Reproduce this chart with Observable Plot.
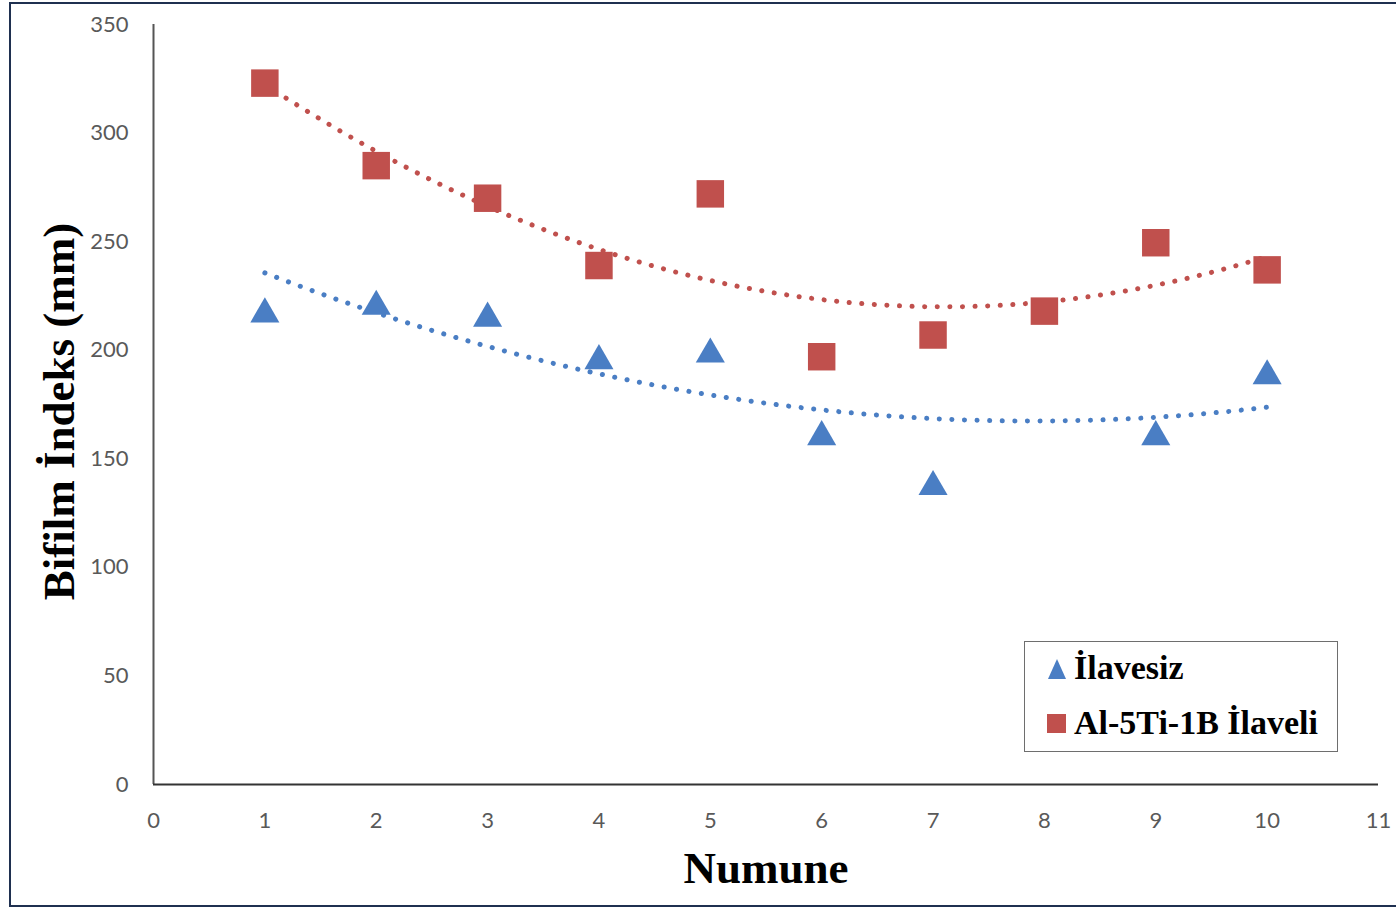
<!DOCTYPE html>
<html><head><meta charset="utf-8">
<script src="https://cdn.jsdelivr.net/npm/d3@7"></script>
<script src="https://cdn.jsdelivr.net/npm/@observablehq/plot@0.6"></script>
<style>
body{margin:0;background:#fff;width:1396px;height:910px;overflow:hidden;position:relative;}
#frame{position:absolute;left:9px;top:2px;width:1400px;height:905px;border:2px solid #1f3050;box-sizing:border-box;pointer-events:none;}
#chart{position:absolute;left:0;top:0;}
#legend{position:absolute;left:1024px;top:641px;width:314px;height:111px;border:1px solid #6e6e6e;box-sizing:border-box;background:#fff;}
#legend svg{position:absolute;left:0;top:0;overflow:visible;}
</style></head>
<body>
<div id="chart"></div>
<div id="legend"></div>
<div id="frame"></div>
<script>
// ---- data ----
const seriesNames = ["İlavesiz", "Al-5Ti-1B İlaveli"];
const blueX = [1, 2, 3, 4, 5, 6, 7, 9, 10];
const blueY = [218.5, 222, 216.5, 197, 200, 162, 139, 162, 190];
const redX = [1, 2, 3, 4, 5, 6, 7, 8, 9, 10];
const redY = [323, 285, 270, 239, 272, 197, 207, 218, 249.5, 237];
const xTicks = [0, 1, 2, 3, 4, 5, 6, 7, 8, 9, 10, 11];
const yTicks = [0, 50, 100, 150, 200, 250, 300, 350];
const xTitle = "Numune";
const yTitle = "Bifilm İndeks (mm)";
const colors = {blue: "#4a7ec4", red: "#c0504d"};

// polynomial (order 2) least-squares trendline, as in the spreadsheet
function quadFit(xs, ys) {
  const S = [0,0,0,0,0], T = [0,0,0];
  xs.forEach((x, i) => {
    for (let k = 0; k < 5; k++) S[k] += x ** k;
    for (let k = 0; k < 3; k++) T[k] += ys[i] * x ** k;
  });
  const A = [[S[0],S[1],S[2],T[0]],[S[1],S[2],S[3],T[1]],[S[2],S[3],S[4],T[2]]];
  for (let c = 0; c < 3; c++) {
    for (let r = c + 1; r < 3; r++) {
      const f = A[r][c] / A[c][c];
      for (let k = c; k < 4; k++) A[r][k] -= f * A[c][k];
    }
  }
  const b = [0,0,0];
  for (let r = 2; r >= 0; r--) {
    let s = A[r][3];
    for (let k = r + 1; k < 3; k++) s -= A[r][k] * b[k];
    b[r] = s / A[r][r];
  }
  return x => b[0] + b[1] * x + b[2] * x * x;
}
function trend(xs, ys) {
  const f = quadFit(xs, ys);
  const x0 = d3.min(xs), x1 = d3.max(xs);
  return d3.range(0, 201).map(i => { const x = x0 + (x1 - x0) * i / 200; return {x, y: f(x)}; });
}
const blue = blueX.map((x, i) => ({x, y: blueY[i]}));
const red = redX.map((x, i) => ({x, y: redY[i]}));
const blueTrend = trend(blueX, blueY);
const redTrend = trend(redX, redY);

const tickFont = {fontFamily: "Lato, sans-serif"};
const chart = Plot.plot({
  width: 1396, height: 910,
  marginLeft: 153, marginRight: 18, marginTop: 24, marginBottom: 126,
  style: {background: "transparent", overflow: "visible"},
  x: {domain: [0, 11]},
  y: {domain: [0, 350]},
  marks: [
    Plot.axisY({ticks: yTicks, tickSize: 0, tickPadding: 25, fontSize: 22, label: null, fill: "#595959", ...tickFont}),
    Plot.axisX({ticks: xTicks, tickSize: 0, tickPadding: 28, fontSize: 22, label: null, fill: "#595959", ...tickFont}),
    Plot.ruleX([0], {stroke: "#555", strokeWidth: 2}),
    Plot.ruleY([0], {stroke: "#333", strokeWidth: 2}),
    Plot.line(blueTrend, {x: "x", y: "y", stroke: colors.blue, strokeWidth: 5, strokeDasharray: "0.1 12.5", strokeLinecap: "round"}),
    Plot.line(redTrend, {x: "x", y: "y", stroke: colors.red, strokeWidth: 5, strokeDasharray: "0.1 12.5", strokeLinecap: "round"}),
    Plot.dot(blue, {x: "x", y: "y", symbol: "triangle", r: 10.8, fill: colors.blue, stroke: null, dy: 4}),
    Plot.dot(red, {x: "x", y: "y", symbol: "square", r: 15.5, fill: colors.red, stroke: null}),
    Plot.text([yTitle], {frameAnchor: "left", textAnchor: "middle", lineAnchor: "middle", dx: -94, dy: 7, rotate: -90, fontSize: 45, fontWeight: "bold", fontFamily: "Liberation Serif, serif", fill: "#000"}),
    Plot.text([xTitle], {frameAnchor: "bottom", lineAnchor: "bottom", dy: 98, fontSize: 45, fontWeight: "bold", fontFamily: "Liberation Serif, serif", fill: "#000"})
  ]
});
document.getElementById("chart").appendChild(chart);

// legend
const legend = d3.select("#legend").append("svg").attr("width", 314).attr("height", 111);
const items = [
  {name: seriesNames[0], color: colors.blue, shape: "tri", baseline: 37},
  {name: seriesNames[1], color: colors.red, shape: "sq", baseline: 92}
];
items.forEach(it => {
  if (it.shape === "tri") {
    const b = it.baseline;
    legend.append("polygon").attr("points", `32,${b - 20} 41,${b} 23,${b}`).attr("fill", it.color);
  } else {
    legend.append("rect").attr("x", 22).attr("y", it.baseline - 20).attr("width", 19).attr("height", 19).attr("fill", it.color);
  }
  legend.append("text").attr("x", 49).attr("y", it.baseline).text(it.name)
    .attr("font-family", "Liberation Serif, serif").attr("font-weight", "bold").attr("font-size", 34).attr("fill", "#000");
});
</script>
</body></html>
